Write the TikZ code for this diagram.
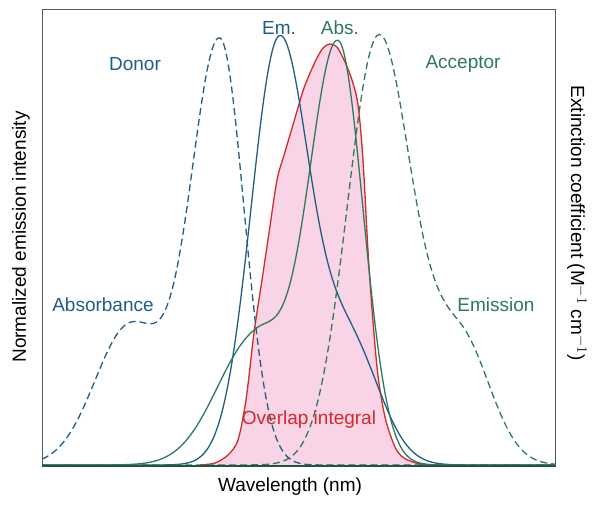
\documentclass[tikz,border=0pt]{standalone}
\usepackage{fontspec}
\setmainfont{Liberation Sans}
\definecolor{dblue}{HTML}{1F5F85}
\definecolor{dgreen}{HTML}{2E7A5A}
\definecolor{ored}{HTML}{D42A2A}
\definecolor{opink}{HTML}{F9D3E6}
\begin{document}
\begin{tikzpicture}[x=1pt,y=-1pt,
  g/.style={line width=1.3pt},
  lbl/.style={font=\fontsize{19}{22}\selectfont},
  declare function={
    gs(\x,\m,\s)=exp(-min(((\x-\m)/\s)^2/2,50));
    da(\x)=gs(\x,220,ifthenelse(\x<220,29,24))+0.33*gs(\x,130,35);
    de(\x)=gs(\x,279,ifthenelse(\x<279,28,30))+0.28*gs(\x,350,30);
    aa(\x)=gs(\x,338,ifthenelse(\x<338,30,25))+0.3*gs(\x,255,ifthenelse(\x<255,38,30));
    ae(\x)=gs(\x,378,ifthenelse(\x<378,31,32))+0.3*gs(\x,460,ifthenelse(\x<460,35,30));
  }]
\useasboundingbox (0,0) rectangle (600,504);
\fill[white] (0,0) rectangle (600,504);
\fill[opink] plot[smooth] coordinates {(200,465)(215,463)(228,455)(238,440)(246,400)(254,333)(262,280)(269,233)(277,180)(285,152)(295,118)(304,88)(315,62)(323,48)(330,44)(337,47)(345,62)(352,80)(358,105)(363,160)(369,267)(377,367)(385,417)(395,447)(404,458)(420,464)(440,465)} -- cycle;
\draw[ored,g] plot[smooth] coordinates {(200,465)(215,463)(228,455)(238,440)(246,400)(254,333)(262,280)(269,233)(277,180)(285,152)(295,118)(304,88)(315,62)(323,48)(330,44)(337,47)(345,62)(352,80)(358,105)(363,160)(369,267)(377,367)(385,417)(395,447)(404,458)(420,464)(440,465)};
\draw[dblue,g,dash pattern=on 7pt off 4pt] plot[smooth,domain=42:555,samples=200] (\x,{465-422*da(\x)});
\draw[dblue,g] plot[smooth,domain=42:555,samples=200] (\x,{465-422*de(\x)});
\draw[dgreen,g] plot[smooth,domain=42:555,samples=200] (\x,{465-422*aa(\x)});
\draw[dgreen,g,dash pattern=on 7pt off 4pt] plot[smooth,domain=42:555,samples=200] (\x,{465-422*ae(\x)});
\draw[gray!70!black,line width=0.8pt] (42,9) rectangle (555,466);
\draw[dgreen!70!black,line width=1.3pt] (42,466) -- (555,466);
\node[lbl,text=dblue] (em) at (279,28) {Em.};
\node[lbl,text=dgreen] (ab) at (340,28) {Abs.};
\node[lbl,text=dblue] (donor) at (135,64) {Donor};
\node[lbl,text=dgreen] (acc) at (463,64) {Acceptor};
\node[lbl,text=dblue] (absb) at (103,305) {Absorbance};
\node[lbl,text=dgreen] (emis) at (496,305) {Emission};
\node[lbl,text=ored] (ovl) at (309,420) {Overlap integral};
\node[lbl] (xl) at (290,487) {Wavelength (nm)};
\node[lbl,rotate=90] (yl) at (21,237) {Normalized emission intensity};
\node[lbl,rotate=-90] (yr) at (577,223) {Extinction coefficient (M$^{-1}$ cm$^{-1}$)};
\end{tikzpicture}
\end{document}
